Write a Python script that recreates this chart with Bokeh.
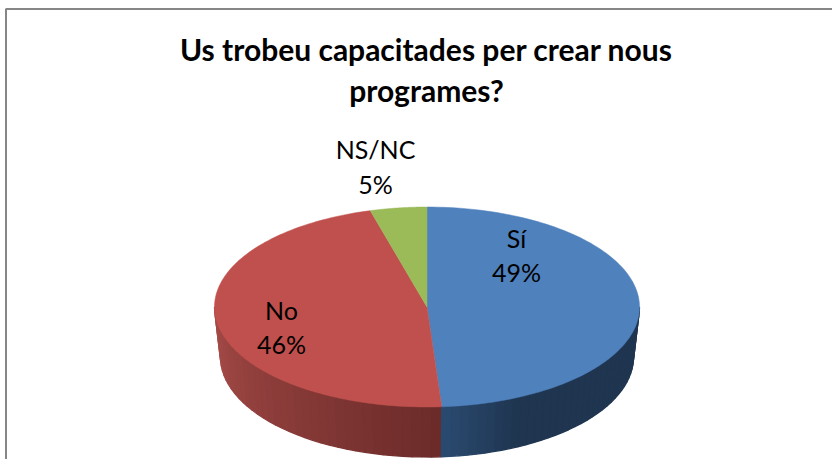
import numpy as np
from bokeh.plotting import figure
from bokeh.models import Range1d
from bokeh.core.properties import value
from bokeh.embed import file_html
from bokeh.resources import INLINE

categories = ["Sí", "No", "NS/NC"]
shares = [48.9, 46.8, 4.3]
percent_labels = ["49%", "46%", "5%"]
top_colors = ["#4F81BD", "#C0504D", "#9BBB59"]
title_text = "Us trobeu capacitades per crear nous\nprogrames?"

W, H = 832, 459
CX, CY, RX, RY = 426.5, 306.5, 212.5, 100
BX, BY, BRY = 206.5, 356.5, 100
label_pos = [(516, 254.5), (281, 326.5), (375, 166)]


def hex_rgb(h):
    return np.array([int(h[i:i + 2], 16) for i in (1, 3, 5)], dtype=float)


def mix(a, b, t):
    c = hex_rgb(a) * (1 - t) + hex_rgb(b) * t
    return "#%02x%02x%02x" % tuple(int(round(v)) for v in c)


p = figure(width=W, height=H, x_range=Range1d(0, W), y_range=Range1d(H, 0),
           output_backend="svg", toolbar_location=None, min_border=0,
           outline_line_color=None, background_fill_color="white",
           styles={"position": "absolute", "left": "0", "top": "0"})
p.axis.visible = False
p.grid.visible = False

# chart frame
p.line([5.5, 5.5, W], [H, 8.5, 8.5], line_color="#868686", line_width=2)

edges = np.radians(np.cumsum([0] + shares) * 3.6)


def top(a):
    return CX + RX * np.sin(a), CY - RY * np.cos(a)


def bottom(a):
    return CX + BX * np.sin(a), BY - BRY * np.cos(a)


# side walls, drawn as narrow strips for the shading
boundary = edges[1]
left_part = np.linspace(np.pi / 2, boundary, 36)
right_part = np.linspace(boundary, 1.5 * np.pi, 36)
xs, ys, cols = [], [], []
for part, is_blue in ((right_part[::-1], False), (left_part, True)):
    for a0, a1 in zip(part[:-1], part[1:]):
        mid = (a0 + a1) / 2
        x0, y0 = top(a0); x1, y1 = top(a1)
        x2, y2 = bottom(a1); x3, y3 = bottom(a0)
        xs.append([x0, x1, x2, x3]); ys.append([y0, y1, y2, y3])
        if is_blue:
            t = (mid - np.pi / 2) / (boundary - np.pi / 2)
            cols.append(mix("#2B4A70", "#1F3550", min(1, (1 - t) * 4)))
        else:
            t = (mid - boundary) / (1.5 * np.pi - boundary)
            cols.append(mix("#6B2B29", "#A84C49", t))
p.patches(xs, ys, fill_color=cols, line_color=cols, line_width=1.3)

# top face
for i in range(3):
    aa = np.linspace(edges[i], edges[i + 1], 120)
    x, y = top(aa)
    p.patch(np.r_[CX, x], np.r_[CY, y], fill_color=top_colors[i],
            line_color=top_colors[i], line_width=0.5)

p.text([426], [69], text=[title_text], text_align="center", text_baseline="middle",
       text_font=value("Lato"), text_font_style="bold", text_font_size="30px",
       text_color="black", text_line_height=1.127)

p.text([q[0] for q in label_pos], [q[1] for q in label_pos],
       text=[f"{c}\n{v}" for c, v in zip(categories, percent_labels)],
       text_align="center", text_baseline="middle", text_font=value("Lato"),
       text_font_size="25px", text_color="black", text_line_height=1.14)

open("out.html", "w").write(file_html(p, INLINE))
